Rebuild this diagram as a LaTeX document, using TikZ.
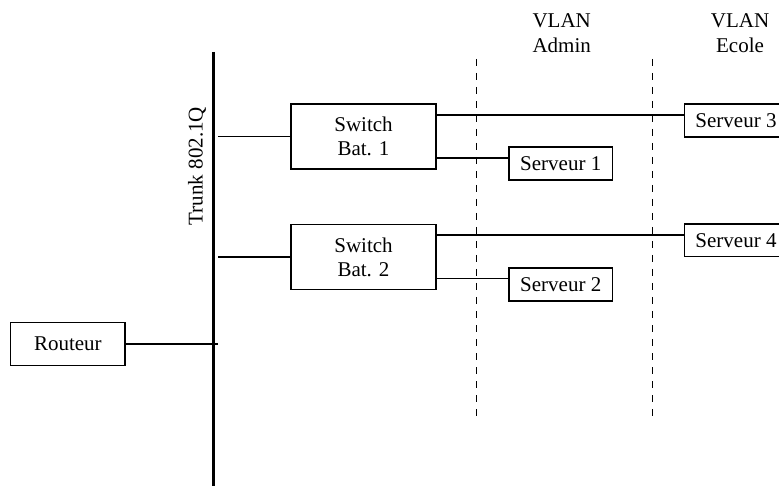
\documentclass[tikz,border=0pt]{standalone}
\usepackage{fontspec}
\setmainfont{Liberation Serif}
\begin{document}
\begin{tikzpicture}[x=1pt,y=-1pt,
  box/.style={draw,line width=1.5pt,inner sep=0pt,align=center,
    font=\fontsize{21}{24}\selectfont},
  lbl/.style={inner sep=0pt,align=center,font=\fontsize{21}{25}\selectfont},
  wire/.style={line width=1.5pt},
  vsep/.style={line width=0.9pt,dash pattern=on 7pt off 7pt}]
\useasboundingbox (0,0) rectangle (779,486);
\clip (0,0) rectangle (779,486);
% trunk
\coordinate (ttop) at (213.5,52);
\coordinate (tbot) at (213.5,490);
\draw[line width=3.2pt] (ttop) -- (tbot);
\node[lbl,rotate=90] (tlabel) at (197,166) {Trunk 802.1Q};
% vlan separators
\coordinate (d1t) at (476.7,59); \coordinate (d1b) at (476.7,417);
\coordinate (d2t) at (652.3,59); \coordinate (d2b) at (652.3,417);
\draw[vsep] (d1t) -- (d1b);
\draw[vsep] (d2t) -- (d2b);
\node[lbl] (vadmin) at (561.7,33) {VLAN\\Admin};
\node[lbl] (vecole) at (740,33) {VLAN\\Ecole};
% nodes
\node[box,minimum width=145pt,minimum height=65pt] (sw1) at (363.5,136.5) {Switch\\Bat. 1};
\node[box,minimum width=145pt,minimum height=65pt] (sw2) at (363.5,257) {Switch\\Bat. 2};
\node[box,minimum width=103.5pt,minimum height=33pt] (s1) at (560.75,163.5) {Serveur 1};
\node[box,minimum width=103.5pt,minimum height=33pt] (s2) at (560.75,284.5) {Serveur 2};
\node[box,minimum width=103.5pt,minimum height=33pt] (s3) at (736,120.5) {Serveur 3};
\node[box,minimum width=103.5pt,minimum height=32.5pt] (s4) at (736,240.4) {Serveur 4};
\node[box,minimum width=114.3pt,minimum height=43.4pt] (rt) at (67.85,344) {Routeur};
% connectors
\coordinate (j1) at (218,136.5);
\coordinate (j2) at (218,257);
\coordinate (j3) at (218.3,344);
\draw[wire] (j1) -- (sw1.west);
\draw[wire] (j2) -- (sw2.west);
\draw[wire] (rt.east) -- (j3);
\draw[wire] (sw1.east |- 0,115) -- (s3.west |- 0,115);
\draw[wire] (sw1.east |- 0,158) -- (s1.west |- 0,158);
\draw[wire] (sw2.east |- 0,235) -- (s4.west |- 0,235);
\draw[wire] (sw2.east |- 0,278.5) -- (s2.west |- 0,278.5);
\end{tikzpicture}
\end{document}
